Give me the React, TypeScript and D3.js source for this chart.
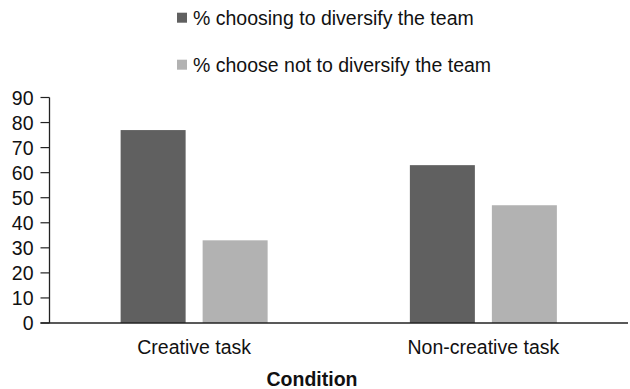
import React from "react";
import * as d3 from "d3";

const categories = ["Creative task", "Non-creative task"];
const seriesNames = ["% choosing to diversify the team", "% choose not to diversify the team"];
const diversify = [77, 63];
const notDiversify = [33, 47];
const yTicks = [0, 10, 20, 30, 40, 50, 60, 70, 80, 90];

const colors = ["#606060", "#b2b2b2"];
const font = "Liberation Sans, Arial, sans-serif";
const fs = 19.5;

export default function App() {
  const width = 630;
  const height = 389;
  const left = 49.5;
  const right = 628;
  const top = 97.5;
  const bottom = 323;

  const x = d3.scaleBand<string>().domain(categories).range([left, right]);
  const y = d3.scaleLinear().domain([0, 90]).range([bottom, top]);
  const barW = 65;
  const gap = 17;

  const series = [diversify, notDiversify];

  return (
    <svg
      width={width}
      height={height}
      style={{ position: "absolute", left: 0, top: 0, background: "#fff" }}
      fontFamily={font}
    >
      {/* legend */}
      {seriesNames.map((name, i) => (
        <g key={name} transform={`translate(177, ${12.7 + i * 47})`}>
          <rect x={0} y={0} width={10} height={10} fill={colors[i]} />
          <text x={16} y={12.3} fontSize={fs} fill="#111">
            {name}
          </text>
        </g>
      ))}

      {/* bars */}
      {categories.map((c, ci) => {
        const center = (x(c) as number) + x.bandwidth() / 2;
        return series.map((vals, si) => {
          const bx = si === 0 ? center - gap / 2 - barW : center + gap / 2;
          return (
            <rect
              key={`${c}-${si}`}
              x={bx}
              y={y(vals[ci])}
              width={barW}
              height={bottom - y(vals[ci])}
              fill={colors[si]}
            />
          );
        });
      })}

      {/* y axis */}
      <line x1={left} x2={left} y1={top} y2={bottom} stroke="#222" strokeWidth={1.3} />
      {yTicks.map((t) => (
        <g key={t}>
          <line x1={left - 9} x2={left} y1={y(t)} y2={y(t)} stroke="#222" strokeWidth={1.2} />
          <text x={33.5} y={y(t)} dy="0.36em" textAnchor="end" fontSize={fs} fill="#111">
            {t}
          </text>
        </g>
      ))}

      {/* x axis */}
      <line x1={left - 9} x2={right} y1={bottom} y2={bottom} stroke="#222" strokeWidth={1.3} />
      {categories.map((c) => (
        <text
          key={c}
          x={(x(c) as number) + x.bandwidth() / 2}
          y={354}
          textAnchor="middle"
          fontSize={fs}
          fill="#111"
        >
          {c}
        </text>
      ))}
      <text x={312} y={385.5} textAnchor="middle" fontSize={fs} fontWeight="bold" fill="#111">
        Condition
      </text>
    </svg>
  );
}
